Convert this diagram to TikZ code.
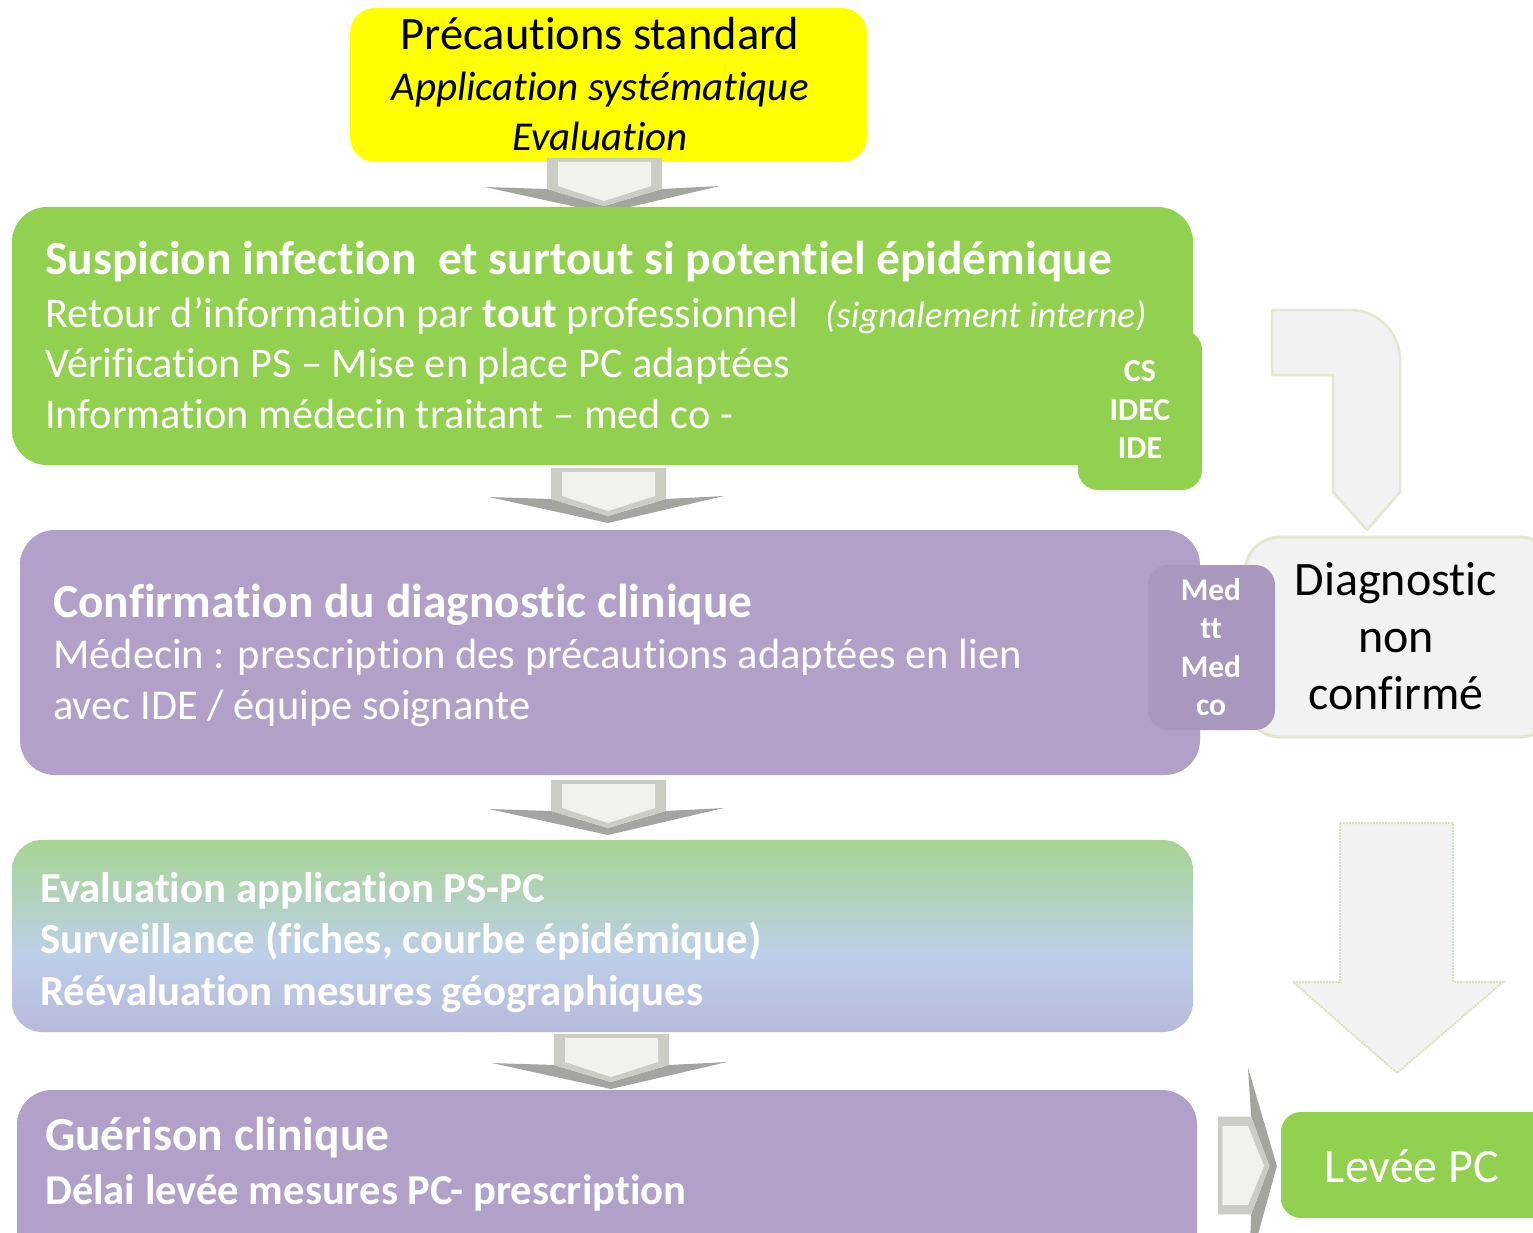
\documentclass[tikz,border=0pt]{standalone}
\usepackage{fontspec}
\setmainfont{Carlito}[Ligatures={NoCommon,NoContextual}]
\definecolor{ylw}{HTML}{FFFF00}
\definecolor{gbase}{HTML}{92D050}
\definecolor{glight}{HTML}{C8F48A}
\definecolor{pbase}{HTML}{B1A0C7}
\definecolor{plight}{HTML}{E2D4F3}
\definecolor{mbase}{HTML}{A898BF}
\definecolor{grayf}{HTML}{F2F2F2}
\definecolor{beige}{HTML}{E8E4D2}
\definecolor{dotgreen}{HTML}{D5E3C0}
\definecolor{cdark}{HTML}{A3A69E}
\definecolor{cmid}{HTML}{CACDC4}
\definecolor{cface}{HTML}{F0F2EC}
\definecolor{mixg}{HTML}{A2D57E}
\definecolor{mixb}{HTML}{BDCFE8}
\definecolor{mixp}{HTML}{B3A6D0}
\pgfdeclareverticalshading{gshade}{100bp}{color(0bp)=(gbase); color(86bp)=(gbase); color(100bp)=(glight)}
\pgfdeclareverticalshading{pshade}{100bp}{color(0bp)=(plight); color(7bp)=(pbase); color(90bp)=(pbase); color(100bp)=(plight)}
\pgfdeclareverticalshading{mshade}{100bp}{color(0bp)=(mbase); color(80bp)=(mbase); color(100bp)=(plight)}
\pgfdeclareverticalshading{mixshade}{100bp}{color(0bp)=(plight); color(7bp)=(mixp); color(45bp)=(mixb); color(82bp)=(mixg); color(100bp)=(glight)}
\newcommand\fsz[1]{\fontsize{#1}{#1}\selectfont}
\newcommand\drawchevron[1]{%
  \begin{scope}[#1]
    \fill[cdark] (-119,29) -- (-57,31) -- (0,48) -- (58,31) -- (116,28) -- (0,55) -- cycle;
    \fill[cmid] (-57,0) -- (58,0) -- (58,31) -- (0,48) -- (-57,31) -- cycle;
    \fill[cface] (-46,4) -- (47,4) -- (47,28) -- (0,43) -- (-46,28) -- cycle;
  \end{scope}}
\begin{document}
\begin{tikzpicture}[x=1pt,y=-1pt,
  boxbase/.style={inner sep=0pt, outer sep=0pt, draw=none},
  greenbox/.style={boxbase, shade, shading=gshade},
  purplebox/.style={boxbase, shade, shading=pshade},
  wtext/.style={text=white, inner sep=0pt, anchor=base west},
  bigarrow/.style={fill=grayf, draw=beige, line width=2.5pt, line join=round},
  bigarrowdot/.style={fill=grayf, draw=dotgreen, line width=2pt, densely dotted}]
\useasboundingbox (0,0) rectangle (1533,1233);
\fill[white] (0,0) rectangle (1533,1233);
\clip (0,0) rectangle (1533,1233);

% yellow box
\node[boxbase, fill=ylw, rounded corners=25pt, minimum width=517pt, minimum height=154pt] (ps) at (608.5,85) {};
\node[inner sep=0pt, anchor=base, font=\fsz{46.5}] (p1) at (600,50) {Précautions standard};
\node[inner sep=0pt, anchor=base, font=\fsz{41}\itshape] (p2) at (600,101) {Application systématique};
\node[inner sep=0pt, anchor=base, font=\fsz{41}\itshape] (p3) at (600,151) {Evaluation};

\drawchevron{shift={(604,158)}}

% green box
\node[greenbox, rounded corners=35pt, minimum width=1181pt, minimum height=258pt] (susp) at (602.5,336) {};
\node[wtext, font=\fsz{47.5}\bfseries] (s1) at (45,274) {Suspicion infection\ \ et surtout si potentiel épidémique};
\node[wtext, font=\fsz{42.3}] (s2) at (45,327) {Retour d’information par \textbf{tout} professionnel};
\node[wtext, font=\fsz{37}\itshape] (s2b) at (825,327) {(signalement interne)};
\node[wtext, font=\fsz{42.3}] (s3) at (45,377) {Vérification PS – Mise en place PC adaptées};
\node[wtext, font=\fsz{42.3}] (s4) at (45,428) {Information médecin traitant – med co -};

% bent arrow
\draw[bigarrow] (1272,310) -- (1350,310) arc[start angle=90, end angle=0, radius=50pt] -- (1400,492) -- (1367,530) -- (1333,492) -- (1333,375) -- (1272,375) -- cycle;

% CS box
\node[greenbox, rounded corners=20pt, minimum width=124pt, minimum height=160pt] (csbox) at (1140,410) {};
\node[text=white, inner sep=0pt, align=center, font=\fontsize{32}{38.5}\selectfont\bfseries] (cstxt) at (1140,410) {CS\\IDEC\\IDE};

\drawchevron{shift={(608,468)}}

% diagnostic non confirme
\node[boxbase, fill=grayf, draw=beige, line width=3pt, rounded corners=35pt, minimum width=310pt, minimum height=200pt] (diag) at (1400,637) {};
\node[inner sep=0pt, align=center, font=\fontsize{48}{57}\selectfont] (diagtxt) at (1396,636) {Diagnostic\\non\\confirmé};

% purple box 1
\node[purplebox, rounded corners=35pt, minimum width=1180pt, minimum height=245pt] (conf) at (610,652.5) {};
\node[wtext, font=\fsz{47.5}\bfseries] (c1) at (53,617) {Confirmation du diagnostic clinique};
\node[wtext, font=\fsz{42.5}] (c2) at (53,668) {Médecin : prescription des précautions adaptées en lien};
\node[wtext, font=\fsz{42.5}] (c3) at (53,719) {avec IDE / équipe soignante};

% Med box
\node[boxbase, shade, shading=mshade, rounded corners=20pt, minimum width=127pt, minimum height=165pt] (medbox) at (1211.5,647.5) {};
\node[text=white, inner sep=0pt, align=center, font=\fontsize{31.5}{38.5}\selectfont\bfseries] (medtxt) at (1211,647) {Med\\tt\\Med\\co};

\drawchevron{shift={(608,780)}}

% gradient box
\node[boxbase, shade, shading=mixshade, rounded corners=30pt, minimum width=1181pt, minimum height=192pt] (eval) at (602.5,936) {};
\node[wtext, font=\fsz{42.8}\bfseries] (e1) at (40,902) {Evaluation application PS-PC};
\node[wtext, font=\fsz{42.8}\bfseries] (e2) at (40,953) {Surveillance (fiches, courbe épidémique)};
\node[wtext, font=\fsz{42.8}\bfseries] (e3) at (40,1005) {Réévaluation mesures géographiques};

% big down arrow
\draw[bigarrowdot] (1340,823) -- (1453,823) -- (1453,982) -- (1503,982) -- (1397,1073) -- (1293,982) -- (1340,982) -- cycle;

\drawchevron{shift={(611,1034)}}

% bottom purple box
\node[purplebox, rounded corners=35pt, minimum width=1180pt, minimum height=190pt] (guer) at (607,1185) {};
\node[wtext, font=\fsz{47.5}\bfseries] (g1) at (45,1150) {Guérison clinique};
\node[wtext, font=\fsz{42.6}\bfseries] (g2) at (45,1204) {Délai levée mesures PC- prescription};

\drawchevron{shift={(1218,1166)}, rotate=90, xscale=0.85, yscale=1.07}

% Levee PC
\node[greenbox, rounded corners=20pt, minimum width=279pt, minimum height=106pt] (levee) at (1420.5,1165) {};
\node[text=white, inner sep=0pt, anchor=base, font=\fsz{48}] (leveetxt) at (1412,1182) {Levée PC};
\end{tikzpicture}
\end{document}
